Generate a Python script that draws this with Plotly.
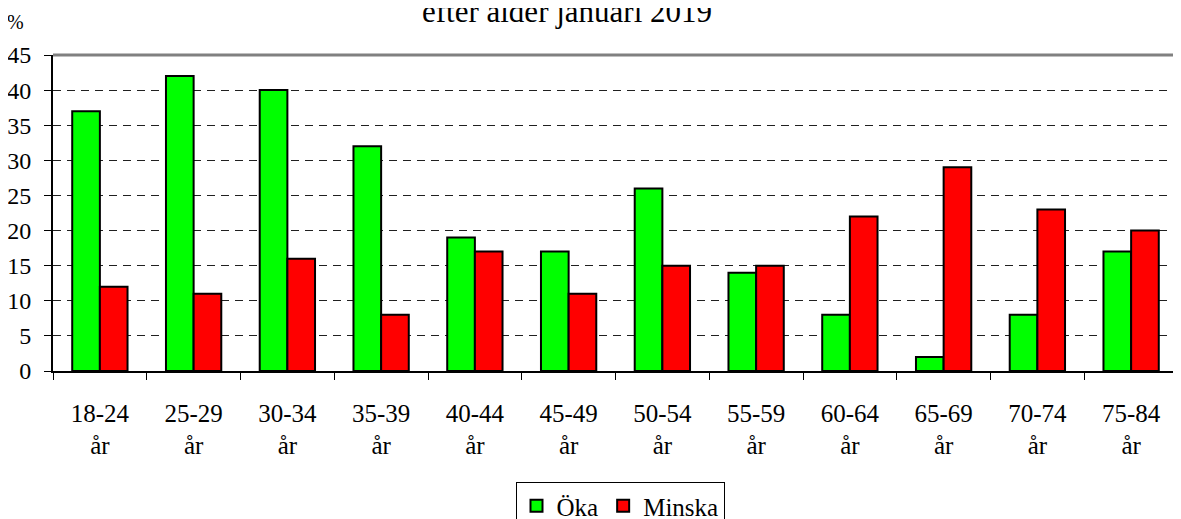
import plotly.graph_objects as go

categories = ["18-24<br>år", "25-29<br>år", "30-34<br>år", "35-39<br>år", "40-44<br>år", "45-49<br>år",
              "50-54<br>år", "55-59<br>år", "60-64<br>år", "65-69<br>år", "70-74<br>år", "75-84<br>år"]
oka = [37, 42, 40, 32, 19, 17, 26, 14, 8, 2, 8, 17]
minska = [12, 11, 16, 8, 17, 11, 15, 15, 22, 29, 23, 20]

FONT = "Liberation Serif"
OFF = 8  # page body margin
W, H = 1181, 519
L, T = 53 - OFF, 55 - OFF
R = W - (1178 - OFF)
B = H - (371 - OFF)
PW, PH = W - L - R, H - T - B


def px(xs):
    return (xs - OFF - L) / PW


def py(ys):
    return (H - B - (ys - OFF)) / PH


fig = go.Figure()
fig.add_trace(go.Bar(x=categories, y=oka, name="Öka",
                     marker=dict(color="#00FF00", line=dict(color="black", width=2))))
fig.add_trace(go.Bar(x=categories, y=minska, name="Minska",
                     marker=dict(color="#FF0000", line=dict(color="black", width=2))))

fig.update_layout(
    width=W, height=H,
    margin=dict(l=L, r=R, t=T, b=B, autoexpand=False),
    paper_bgcolor="white", plot_bgcolor="white",
    barmode="group", bargap=0.41, bargroupgap=0,
    font=dict(family=FONT, size=24, color="black"),
    title=dict(text="efter ålder januari 2019", font=dict(family=FONT, size=31, color="black"),
               x=(567 - OFF) / W, xanchor="center", xref="container", yref="container",
               y=1 - (22 - OFF) / H, yanchor="bottom", pad=dict(b=0, t=0)),
    xaxis=dict(range=[-0.5, 11.5], showline=True, linecolor="black", linewidth=1.5, automargin=False,
               ticks="outside", tickson="boundaries", ticklen=7, tickcolor="black", tickwidth=1,
               ticklabelstandoff=19,
               tickfont=dict(family=FONT, size=25, color="black"), showgrid=False, zeroline=False),
    yaxis=dict(range=[0, 45], dtick=5, showline=True, linecolor="black", linewidth=2, automargin=False,
               ticks="outside", ticklen=7, tickcolor="black", tickwidth=1, ticklabelstandoff=8,
               tickfont=dict(family=FONT, size=24, color="black"),
               showgrid=True, gridcolor="#202020", gridwidth=1, griddash="8px,6px", zeroline=False),
    legend=dict(orientation="h", x=px(620), xanchor="center", y=py(482), yanchor="top",
                bordercolor="black", borderwidth=1, font=dict(family=FONT, size=25, color="black"),
                bgcolor="white", itemwidth=30, tracegroupgap=0),
    annotations=[dict(text="%", xref="paper", yref="paper", x=px(15), y=py(22),
                      showarrow=False, font=dict(family=FONT, size=20, color="black"),
                      xanchor="center", yanchor="middle")],
    shapes=[
        dict(type="line", xref="paper", yref="paper", x0=0, x1=1, y0=1, y1=1,
             line=dict(color="#808080", width=3)),
        dict(type="line", xref="paper", yref="paper", x0=1, x1=1, y0=0, y1=1,
             line=dict(color="#808080", width=3)),
    ],
)

fig.write_html("out.html")
